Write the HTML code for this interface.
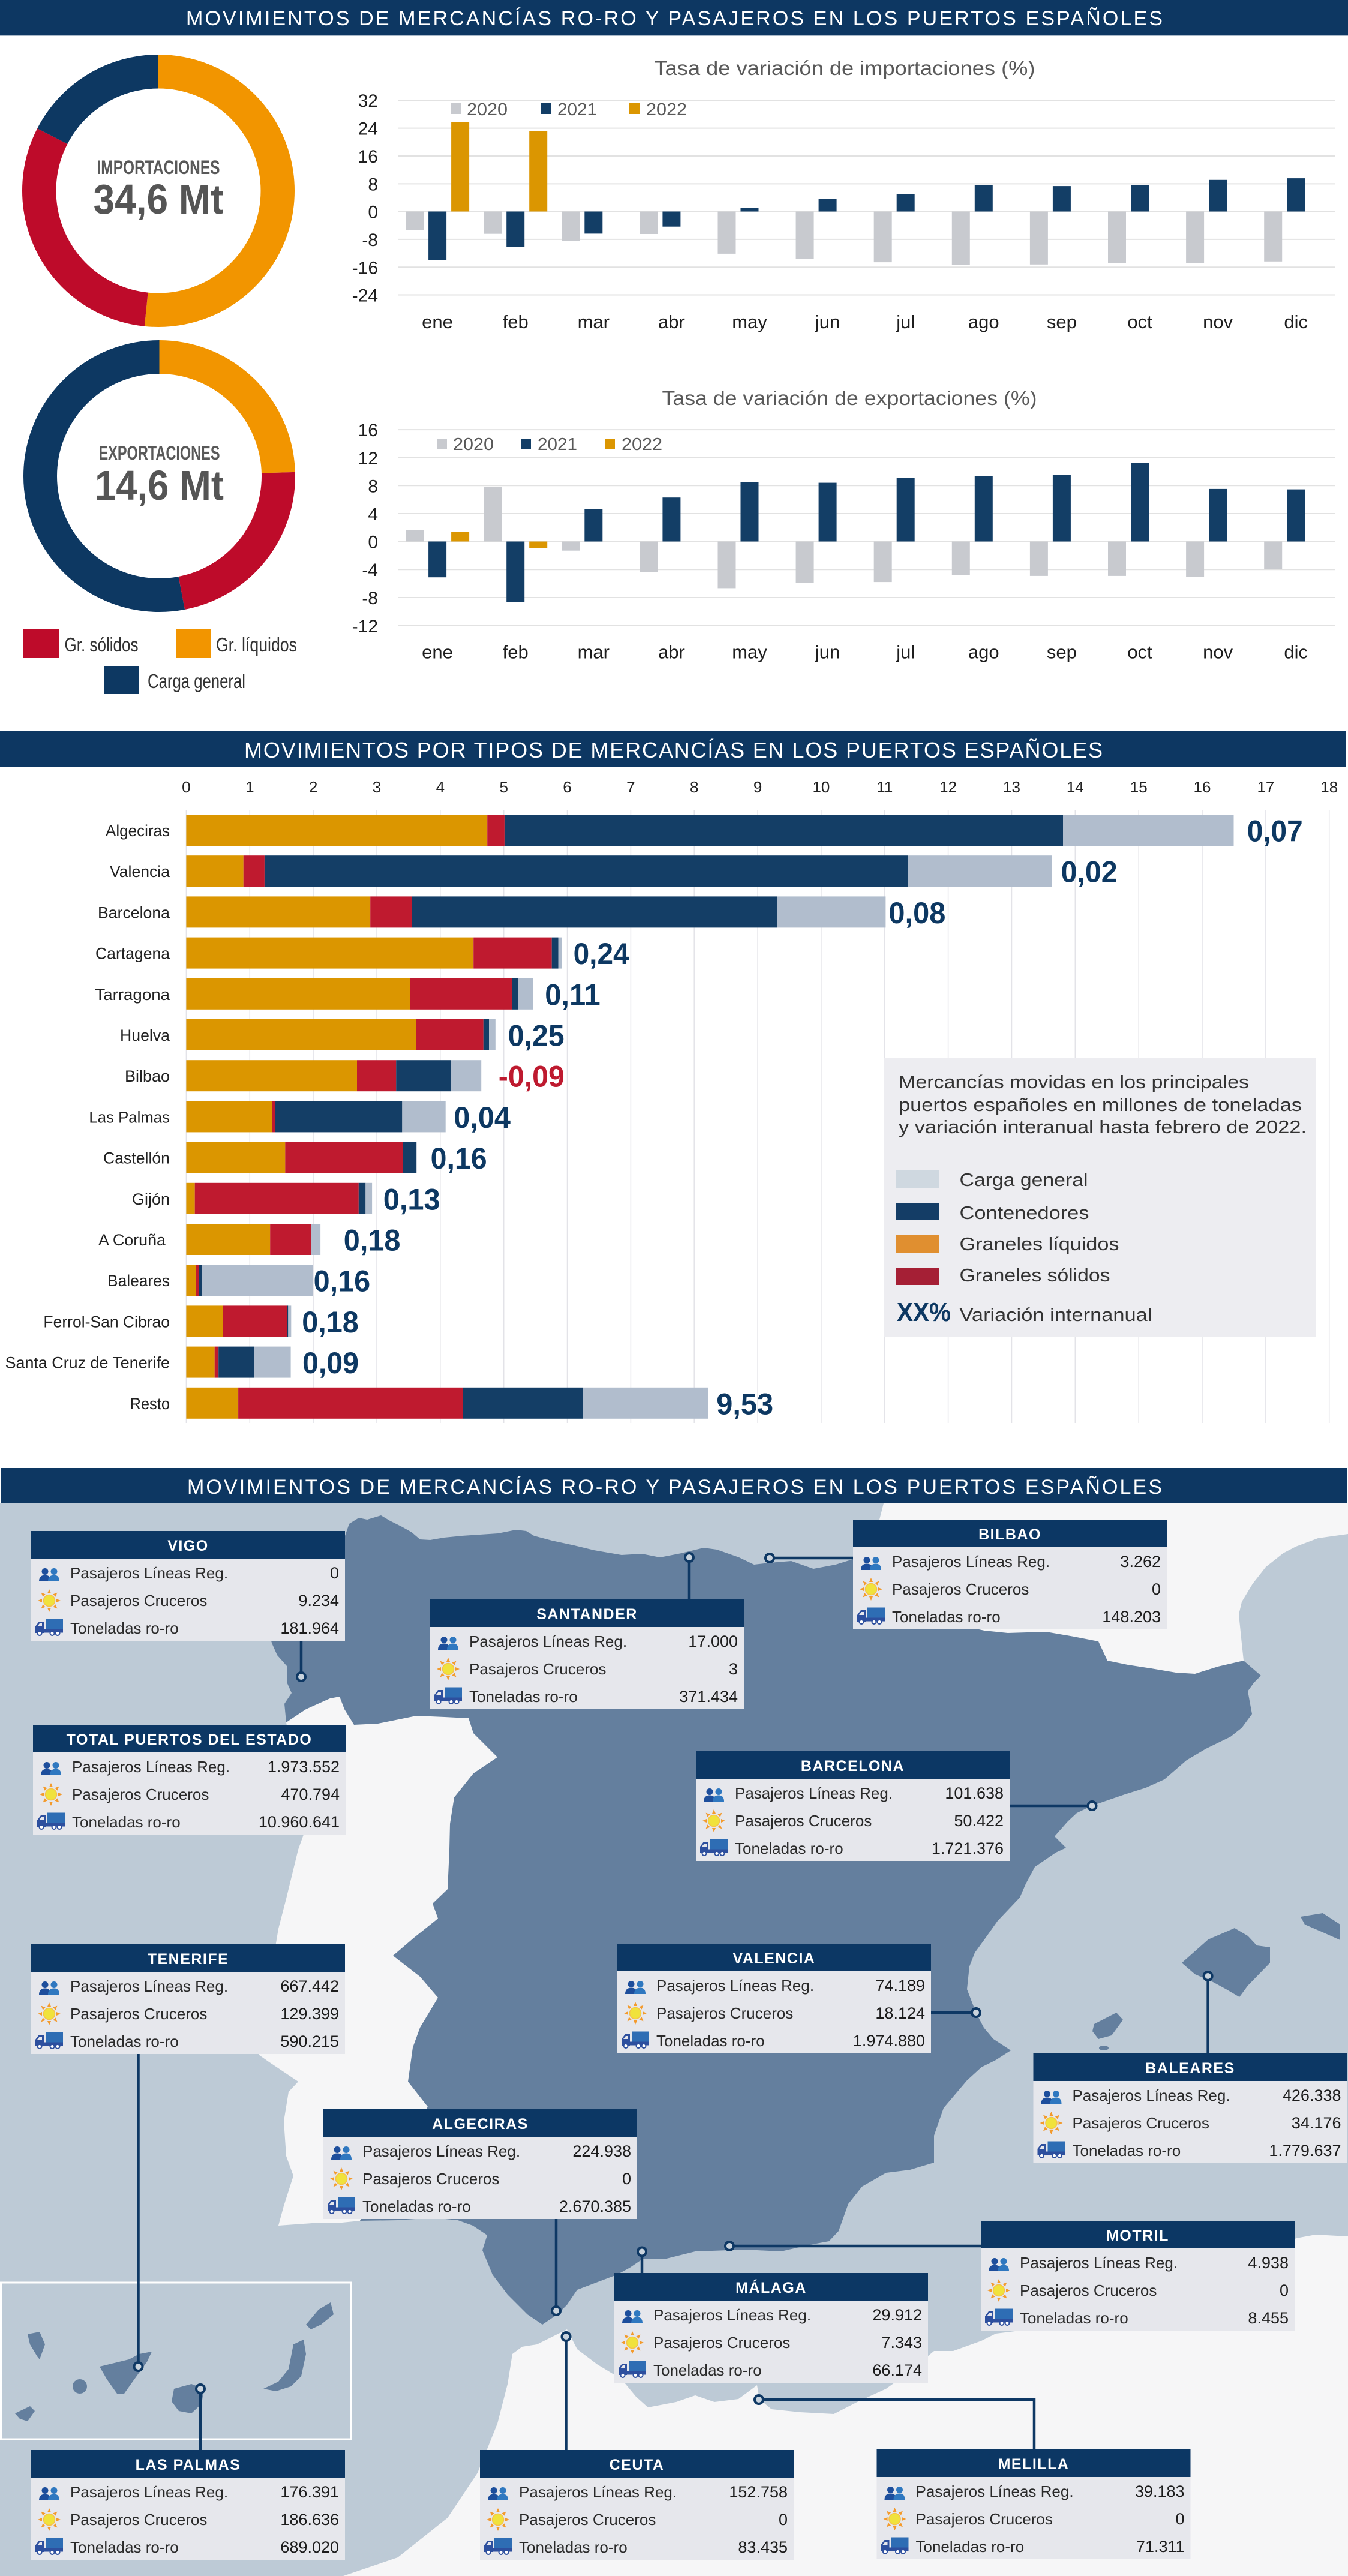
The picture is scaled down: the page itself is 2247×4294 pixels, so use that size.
<!DOCTYPE html>
<html><head><meta charset="utf-8"><style>
html,body{margin:0;padding:0;background:#fff;}
svg{display:block;}
</style></head><body>
<svg xmlns="http://www.w3.org/2000/svg" xmlns:xlink="http://www.w3.org/1999/xlink" width="2247" height="4294" viewBox="0 0 2247 4294" font-family="'Liberation Sans', sans-serif">
<defs>
<style>
text{font-family:"Liberation Sans",sans-serif}
.hd{font-size:34px;fill:#fff}
.tk{font-size:30px;fill:#1e1e1e;text-anchor:end}
.mo{font-size:31px;fill:#1e1e1e;text-anchor:middle}
.lg{font-size:29px;fill:#595959}
.ti{font-size:33px;fill:#595959;text-anchor:middle}
.bn{font-size:26.5px;fill:#222;text-anchor:end}
.ax{font-size:26px;fill:#222;text-anchor:middle}
.vl{font-size:50px;font-weight:bold;fill:#0d3862}
.lb{font-size:31px;fill:#333}
.bh{font-size:25px;font-weight:bold;fill:#fff;text-anchor:middle;letter-spacing:1.5px}
.bl{font-size:26px;fill:#2a2a2a}
.bv{font-size:27px;fill:#1c1c1c;text-anchor:end}
</style>
<g id="ppl">
<circle cx="-7" cy="-5.5" r="5.5" fill="#1d4e9c"/>
<path d="M-17,11 C-17,3 -12,0.5 -7,0.5 C-2,0.5 3,3 3,11 Z" fill="#1d4e9c"/>
<circle cx="8" cy="-5.5" r="5.5" fill="#2f78c0"/>
<path d="M-2,11 C-2,3 3,0.5 8,0.5 C13,0.5 17,3 17,11 Z" fill="#2f78c0"/>
</g>
<g id="sun">
<g fill="#f39a2c">
<polygon points="-3,-12 3,-12 0,-19"/>
<polygon points="-3,-12 3,-12 0,-19" transform="rotate(45)"/>
<polygon points="-3,-12 3,-12 0,-19" transform="rotate(90)"/>
<polygon points="-3,-12 3,-12 0,-19" transform="rotate(135)"/>
<polygon points="-3,-12 3,-12 0,-19" transform="rotate(180)"/>
<polygon points="-3,-12 3,-12 0,-19" transform="rotate(225)"/>
<polygon points="-3,-12 3,-12 0,-19" transform="rotate(270)"/>
<polygon points="-3,-12 3,-12 0,-19" transform="rotate(315)"/>
</g>
<circle r="9.5" fill="#f0e23c" stroke="#f6c24a" stroke-width="1.5"/>
</g>
<g id="trk">
<rect x="-6" y="-13.5" width="29" height="17" fill="#2e6db4"/>
<path d="M-23,10 L-23,-1 L-17,-9 L-9,-9 L-9,10 Z" fill="#2d4f9e"/>
<path d="M-20,-1 L-16,-6 L-12,-6 L-12,-1 Z" fill="#e6e7ec"/>
<rect x="-23" y="3.5" width="46" height="6" fill="#2d4f9e"/>
<circle cx="-16" cy="10.5" r="3.5" fill="#fff" stroke="#2d4f9e" stroke-width="2"/>
<circle cx="5" cy="10.5" r="3.5" fill="#fff" stroke="#2d4f9e" stroke-width="2"/>
<circle cx="14" cy="10.5" r="3.5" fill="#fff" stroke="#2d4f9e" stroke-width="2"/>
</g>
</defs>

<!-- ============ SECTION 1 ============ -->
<rect x="0" y="0" width="2247" height="58" fill="#0d3762"/>
<rect x="0" y="58" width="2247" height="2" fill="#a9b8c8"/>
<text x="310" y="42" class="hd" textLength="1628" lengthAdjust="spacing">MOVIMIENTOS DE MERCANCÍAS RO-RO Y PASAJEROS EN LOS PUERTOS ESPAÑOLES</text>

<!-- Import donut -->
<g transform="translate(264,318) rotate(-90)" fill="none" stroke-width="56.5">
<circle r="198.75" stroke="#f29500" stroke-dasharray="644.5 2000" stroke-dashoffset="0"/>
<circle r="198.75" stroke="#be0b2a" stroke-dasharray="386.1 2000" stroke-dashoffset="-644.5"/>
<circle r="198.75" stroke="#0d3862" stroke-dasharray="218.5 2000" stroke-dashoffset="-1030.6"/>
</g>
<text x="264" y="290" text-anchor="middle" font-size="32" font-weight="bold" fill="#595959" textLength="205" lengthAdjust="spacingAndGlyphs">IMPORTACIONES</text>
<text x="264" y="356" text-anchor="middle" font-size="70" font-weight="bold" fill="#555" textLength="217" lengthAdjust="spacingAndGlyphs">34,6 Mt</text>

<!-- Export donut -->
<g transform="translate(265.5,793.5) rotate(-90)" fill="none" stroke-width="56">
<circle r="198.5" stroke="#f29500" stroke-dasharray="305.8 2000" stroke-dashoffset="0"/>
<circle r="198.5" stroke="#be0b2a" stroke-dasharray="280.1 2000" stroke-dashoffset="-305.8"/>
<circle r="198.5" stroke="#0d3862" stroke-dasharray="661.5 2000" stroke-dashoffset="-585.9"/>
</g>
<text x="265.5" y="766" text-anchor="middle" font-size="32" font-weight="bold" fill="#595959" textLength="202" lengthAdjust="spacingAndGlyphs">EXPORTACIONES</text>
<text x="265.5" y="833" text-anchor="middle" font-size="70" font-weight="bold" fill="#555" textLength="215" lengthAdjust="spacingAndGlyphs">14,6 Mt</text>

<!-- donut legend -->
<rect x="39" y="1049" width="59" height="48" fill="#be0b2a"/>
<text x="107.5" y="1086" font-size="33" fill="#333" textLength="123" lengthAdjust="spacingAndGlyphs">Gr. sólidos</text>
<rect x="294" y="1049" width="58" height="48" fill="#f29500"/>
<text x="360" y="1086" font-size="33" fill="#333" textLength="135" lengthAdjust="spacingAndGlyphs">Gr. líquidos</text>
<rect x="174" y="1110" width="58" height="47" fill="#0d3862"/>
<text x="246" y="1147" font-size="33" fill="#333" textLength="163" lengthAdjust="spacingAndGlyphs">Carga general</text>

<!-- Import chart -->
<text x="1408" y="125" class="ti" textLength="635" lengthAdjust="spacingAndGlyphs">Tasa de variación de importaciones (%)</text>
<g stroke="#e2e2e2" stroke-width="2">
<line x1="664" x2="2225" y1="167.1" y2="167.1"/>
<line x1="664" x2="2225" y1="213.6" y2="213.6"/>
<line x1="664" x2="2225" y1="260" y2="260"/>
<line x1="664" x2="2225" y1="306.4" y2="306.4"/>
<line x1="664" x2="2225" y1="352.5" y2="352.5"/>
<line x1="664" x2="2225" y1="398.9" y2="398.9"/>
<line x1="664" x2="2225" y1="445.3" y2="445.3"/>
<line x1="664" x2="2225" y1="491.5" y2="491.5"/>
</g>
<g class="tk">
<text x="630" y="178" class="tk">32</text>
<text x="630" y="224.6" class="tk">24</text>
<text x="630" y="271" class="tk">16</text>
<text x="630" y="317.4" class="tk">8</text>
<text x="630" y="363.5" class="tk">0</text>
<text x="630" y="409.9" class="tk">-8</text>
<text x="630" y="456.3" class="tk">-16</text>
<text x="630" y="502.5" class="tk">-24</text>
</g>
<g fill="#c8cacf">
<rect x="676" y="352.5" width="30" height="30.9"/>
<rect x="806.2" y="352.5" width="30" height="37.2"/>
<rect x="936.3" y="352.5" width="30" height="48.8"/>
<rect x="1066.4" y="352.5" width="30" height="37.5"/>
<rect x="1196.5" y="352.5" width="30" height="70.4"/>
<rect x="1326.6" y="352.5" width="30" height="78.6"/>
<rect x="1456.7" y="352.5" width="30" height="84.6"/>
<rect x="1586.8" y="352.5" width="30" height="89.3"/>
<rect x="1716.9" y="352.5" width="30" height="88.3"/>
<rect x="1847" y="352.5" width="30" height="86.3"/>
<rect x="1977.1" y="352.5" width="30" height="86.3"/>
<rect x="2107.2" y="352.5" width="30" height="83.3"/>
</g>
<g fill="#133e66">
<rect x="714.1" y="352.5" width="30" height="80.6"/>
<rect x="844.2" y="352.5" width="30" height="59.1"/>
<rect x="974.3" y="352.5" width="30" height="36.9"/>
<rect x="1104.4" y="352.5" width="30" height="25.2"/>
<rect x="1234.5" y="346.6" width="30" height="5.9"/>
<rect x="1364.6" y="331.6" width="30" height="20.9"/>
<rect x="1494.7" y="323" width="30" height="29.5"/>
<rect x="1624.8" y="308.8" width="30" height="43.7"/>
<rect x="1754.9" y="310.1" width="30" height="42.4"/>
<rect x="1885" y="308.1" width="30" height="44.4"/>
<rect x="2015.1" y="299.8" width="30" height="52.7"/>
<rect x="2145.2" y="297.1" width="30" height="55.4"/>
</g>
<g fill="#db9601">
<rect x="752.1" y="203.6" width="30" height="148.9"/>
<rect x="882.2" y="218.2" width="30" height="134.3"/>
</g>
<rect x="751" y="172" width="18" height="18" fill="#c8cacf"/>
<text x="778" y="192" class="lg" textLength="68" lengthAdjust="spacingAndGlyphs">2020</text>
<rect x="901" y="172" width="18" height="18" fill="#133e66"/>
<text x="929" y="192" class="lg" textLength="66" lengthAdjust="spacingAndGlyphs">2021</text>
<rect x="1049" y="172" width="18" height="18" fill="#db9601"/>
<text x="1077" y="192" class="lg" textLength="68" lengthAdjust="spacingAndGlyphs">2022</text>
<g>
<text x="729" y="547" class="mo">ene</text>
<text x="859.2" y="547" class="mo">feb</text>
<text x="989.3" y="547" class="mo">mar</text>
<text x="1119.4" y="547" class="mo">abr</text>
<text x="1249.5" y="547" class="mo">may</text>
<text x="1379.6" y="547" class="mo">jun</text>
<text x="1509.7" y="547" class="mo">jul</text>
<text x="1639.8" y="547" class="mo">ago</text>
<text x="1769.9" y="547" class="mo">sep</text>
<text x="1900" y="547" class="mo">oct</text>
<text x="2030.1" y="547" class="mo">nov</text>
<text x="2160.2" y="547" class="mo">dic</text>
</g>

<!-- Export chart -->
<text x="1416" y="675" class="ti" textLength="625" lengthAdjust="spacingAndGlyphs">Tasa de variación de exportaciones (%)</text>
<g stroke="#e2e2e2" stroke-width="2">
<line x1="664" x2="2225" y1="716.1" y2="716.1"/>
<line x1="664" x2="2225" y1="762.9" y2="762.9"/>
<line x1="664" x2="2225" y1="809.3" y2="809.3"/>
<line x1="664" x2="2225" y1="856" y2="856"/>
<line x1="664" x2="2225" y1="902.5" y2="902.5"/>
<line x1="664" x2="2225" y1="949.2" y2="949.2"/>
<line x1="664" x2="2225" y1="996" y2="996"/>
<line x1="664" x2="2225" y1="1042.8" y2="1042.8"/>
</g>
<text x="630" y="727.1" class="tk">16</text>
<text x="630" y="773.9" class="tk">12</text>
<text x="630" y="820.3" class="tk">8</text>
<text x="630" y="867" class="tk">4</text>
<text x="630" y="913.5" class="tk">0</text>
<text x="630" y="960.2" class="tk">-4</text>
<text x="630" y="1007" class="tk">-8</text>
<text x="630" y="1053.8" class="tk">-12</text>
<g fill="#c8cacf">
<rect x="676" y="883.6" width="30" height="18.9"/>
<rect x="806.2" y="811.9" width="30" height="90.6"/>
<rect x="936.3" y="902.5" width="30" height="15.2"/>
<rect x="1066.4" y="902.5" width="30" height="51.4"/>
<rect x="1196.5" y="902.5" width="30" height="77.9"/>
<rect x="1326.6" y="902.5" width="30" height="69.3"/>
<rect x="1456.7" y="902.5" width="30" height="67.6"/>
<rect x="1586.8" y="902.5" width="30" height="55.7"/>
<rect x="1716.9" y="902.5" width="30" height="57.4"/>
<rect x="1847" y="902.5" width="30" height="57.4"/>
<rect x="1977.1" y="902.5" width="30" height="58.7"/>
<rect x="2107.2" y="902.5" width="30" height="45.8"/>
</g>
<g fill="#133e66">
<rect x="714.1" y="902.5" width="30" height="59.7"/>
<rect x="844.2" y="902.5" width="30" height="100.5"/>
<rect x="974.3" y="848.8" width="30" height="53.7"/>
<rect x="1104.4" y="829.2" width="30" height="73.3"/>
<rect x="1234.5" y="803.3" width="30" height="99.2"/>
<rect x="1364.6" y="804.6" width="30" height="97.9"/>
<rect x="1494.7" y="796.4" width="30" height="106.1"/>
<rect x="1624.8" y="793.7" width="30" height="108.8"/>
<rect x="1754.9" y="792" width="30" height="110.5"/>
<rect x="1885" y="771.1" width="30" height="131.4"/>
<rect x="2015.1" y="814.9" width="30" height="87.6"/>
<rect x="2145.2" y="815.6" width="30" height="86.9"/>
</g>
<g fill="#db9601">
<rect x="752.1" y="886.6" width="30" height="15.9"/>
<rect x="882.2" y="902.5" width="30" height="11.3"/>
</g>
<rect x="728" y="731" width="17" height="18" fill="#c8cacf"/>
<text x="755" y="750" class="lg" textLength="68" lengthAdjust="spacingAndGlyphs">2020</text>
<rect x="868" y="731" width="17" height="18" fill="#133e66"/>
<text x="896" y="750" class="lg" textLength="66" lengthAdjust="spacingAndGlyphs">2021</text>
<rect x="1008" y="731" width="17" height="18" fill="#db9601"/>
<text x="1036" y="750" class="lg" textLength="68" lengthAdjust="spacingAndGlyphs">2022</text>
<text x="729" y="1097.5" class="mo">ene</text>
<text x="859.2" y="1097.5" class="mo">feb</text>
<text x="989.3" y="1097.5" class="mo">mar</text>
<text x="1119.4" y="1097.5" class="mo">abr</text>
<text x="1249.5" y="1097.5" class="mo">may</text>
<text x="1379.6" y="1097.5" class="mo">jun</text>
<text x="1509.7" y="1097.5" class="mo">jul</text>
<text x="1639.8" y="1097.5" class="mo">ago</text>
<text x="1769.9" y="1097.5" class="mo">sep</text>
<text x="1900" y="1097.5" class="mo">oct</text>
<text x="2030.1" y="1097.5" class="mo">nov</text>
<text x="2160.2" y="1097.5" class="mo">dic</text>

<!-- ============ SECTION 2 ============ -->
<rect x="0" y="1219" width="2243" height="59" fill="#0d3762"/>
<text x="407" y="1263" font-size="36" fill="#fff" textLength="1431" lengthAdjust="spacing">MOVIMIENTOS POR TIPOS DE MERCANCÍAS EN LOS PUERTOS ESPAÑOLES</text>

<g stroke="#e3e3e8" stroke-width="1.5">
<line x1="310.4" x2="310.4" y1="1351" y2="2372"/>
<line x1="416.3" x2="416.3" y1="1351" y2="2372"/>
<line x1="522.1" x2="522.1" y1="1351" y2="2372"/>
<line x1="628" x2="628" y1="1351" y2="2372"/>
<line x1="733.8" x2="733.8" y1="1351" y2="2372"/>
<line x1="839.7" x2="839.7" y1="1351" y2="2372"/>
<line x1="945.5" x2="945.5" y1="1351" y2="2372"/>
<line x1="1051.4" x2="1051.4" y1="1351" y2="2372"/>
<line x1="1157.2" x2="1157.2" y1="1351" y2="2372"/>
<line x1="1263.1" x2="1263.1" y1="1351" y2="2372"/>
<line x1="1368.9" x2="1368.9" y1="1351" y2="2372"/>
<line x1="1474.8" x2="1474.8" y1="1351" y2="2372"/>
<line x1="1580.6" x2="1580.6" y1="1351" y2="2372"/>
<line x1="1686.5" x2="1686.5" y1="1351" y2="2372"/>
<line x1="1792.3" x2="1792.3" y1="1351" y2="2372"/>
<line x1="1898.2" x2="1898.2" y1="1351" y2="2372"/>
<line x1="2004" x2="2004" y1="1351" y2="2372"/>
<line x1="2109.9" x2="2109.9" y1="1351" y2="2372"/>
<line x1="2215.7" x2="2215.7" y1="1351" y2="2372"/>
</g>
<text x="310.4" y="1321" class="ax">0</text>
<text x="416.3" y="1321" class="ax">1</text>
<text x="522.1" y="1321" class="ax">2</text>
<text x="628" y="1321" class="ax">3</text>
<text x="733.8" y="1321" class="ax">4</text>
<text x="839.7" y="1321" class="ax">5</text>
<text x="945.5" y="1321" class="ax">6</text>
<text x="1051.4" y="1321" class="ax">7</text>
<text x="1157.2" y="1321" class="ax">8</text>
<text x="1263.1" y="1321" class="ax">9</text>
<text x="1368.9" y="1321" class="ax">10</text>
<text x="1474.8" y="1321" class="ax">11</text>
<text x="1580.6" y="1321" class="ax">12</text>
<text x="1686.5" y="1321" class="ax">13</text>
<text x="1792.3" y="1321" class="ax">14</text>
<text x="1898.2" y="1321" class="ax">15</text>
<text x="2004" y="1321" class="ax">16</text>
<text x="2109.9" y="1321" class="ax">17</text>
<text x="2215.7" y="1321" class="ax">18</text>

<!-- legend box -->
<rect x="1473.5" y="1764" width="720.5" height="464.5" fill="#ededf1"/>
<text x="1498" y="1814" class="lb" textLength="584" lengthAdjust="spacingAndGlyphs">Mercancías movidas en los principales</text>
<text x="1498" y="1852" class="lb" textLength="672" lengthAdjust="spacingAndGlyphs">puertos españoles en millones de toneladas</text>
<text x="1498" y="1889" class="lb" textLength="680" lengthAdjust="spacingAndGlyphs">y variación interanual hasta febrero de 2022.</text>
<rect x="1493" y="1951" width="72" height="29.5" fill="#cfd8e0"/>
<rect x="1493" y="2006" width="72" height="28" fill="#143d66"/>
<rect x="1493" y="2059" width="72" height="29" fill="#e08f30"/>
<rect x="1493" y="2114" width="72" height="28" fill="#a51f35"/>
<text x="1599.5" y="1977" class="lb" textLength="214" lengthAdjust="spacingAndGlyphs">Carga general</text>
<text x="1599.5" y="2032" class="lb" textLength="216" lengthAdjust="spacingAndGlyphs">Contenedores</text>
<text x="1599.5" y="2084" class="lb" textLength="266" lengthAdjust="spacingAndGlyphs">Graneles líquidos</text>
<text x="1599.5" y="2136" class="lb" textLength="251" lengthAdjust="spacingAndGlyphs">Graneles sólidos</text>
<text x="1495" y="2202" font-size="44" font-weight="bold" fill="#0d3862" textLength="90" lengthAdjust="spacingAndGlyphs">XX%</text>
<text x="1599.5" y="2202" class="lb" textLength="321" lengthAdjust="spacingAndGlyphs">Variación internanual</text>

<!-- bars -->
<g>
<rect x="310.4" y="1358" width="501.8" height="52" fill="#db9600"/><rect x="812.2" y="1358" width="28.7" height="52" fill="#bf1a2f"/><rect x="840.9" y="1358" width="931.1" height="52" fill="#143e66"/><rect x="1772" y="1358" width="284.5" height="52" fill="#b1bdcd"/>
<rect x="310.4" y="1426.2" width="95.3" height="52" fill="#db9600"/><rect x="405.7" y="1426.2" width="35.2" height="52" fill="#bf1a2f"/><rect x="440.9" y="1426.2" width="1073.1" height="52" fill="#143e66"/><rect x="1514" y="1426.2" width="239.5" height="52" fill="#b1bdcd"/>
<rect x="310.4" y="1494.4" width="306.8" height="52" fill="#db9600"/><rect x="617.2" y="1494.4" width="69.5" height="52" fill="#bf1a2f"/><rect x="686.7" y="1494.4" width="609.3" height="52" fill="#143e66"/><rect x="1296" y="1494.4" width="180.4" height="52" fill="#b1bdcd"/>
<rect x="310.4" y="1562.6" width="478.8" height="52" fill="#db9600"/><rect x="789.2" y="1562.6" width="130.5" height="52" fill="#bf1a2f"/><rect x="919.7" y="1562.6" width="10.8" height="52" fill="#143e66"/><rect x="930.5" y="1562.6" width="5.7" height="52" fill="#b1bdcd"/>
<rect x="310.4" y="1630.8" width="372.8" height="52" fill="#db9600"/><rect x="683.2" y="1630.8" width="170.6" height="52" fill="#bf1a2f"/><rect x="853.8" y="1630.8" width="9.3" height="52" fill="#143e66"/><rect x="863.1" y="1630.8" width="25.8" height="52" fill="#b1bdcd"/>
<rect x="310.4" y="1699" width="383.5" height="52" fill="#db9600"/><rect x="693.9" y="1699" width="111.8" height="52" fill="#bf1a2f"/><rect x="805.7" y="1699" width="9.4" height="52" fill="#143e66"/><rect x="815.1" y="1699" width="10.7" height="52" fill="#b1bdcd"/>
<rect x="310.4" y="1767.2" width="284.6" height="52" fill="#db9600"/><rect x="595" y="1767.2" width="65.2" height="52" fill="#bf1a2f"/><rect x="660.2" y="1767.2" width="91.8" height="52" fill="#143e66"/><rect x="752" y="1767.2" width="50.2" height="52" fill="#b1bdcd"/>
<rect x="310.4" y="1835.4" width="143.4" height="52" fill="#db9600"/><rect x="453.8" y="1835.4" width="4.3" height="52" fill="#bf1a2f"/><rect x="458.1" y="1835.4" width="212.2" height="52" fill="#143e66"/><rect x="670.3" y="1835.4" width="72.4" height="52" fill="#b1bdcd"/>
<rect x="310.4" y="1903.6" width="164.9" height="52" fill="#db9600"/><rect x="475.3" y="1903.6" width="196.4" height="52" fill="#bf1a2f"/><rect x="671.7" y="1903.6" width="21.5" height="52" fill="#143e66"/><rect x="693.2" y="1903.6" width="1.4" height="52" fill="#b1bdcd"/>
<rect x="310.4" y="1971.8" width="14.3" height="52" fill="#db9600"/><rect x="324.7" y="1971.8" width="273.1" height="52" fill="#bf1a2f"/><rect x="597.8" y="1971.8" width="11.5" height="52" fill="#143e66"/><rect x="609.3" y="1971.8" width="10.8" height="52" fill="#b1bdcd"/>
<rect x="310.4" y="2040" width="139.8" height="52" fill="#db9600"/><rect x="450.2" y="2040" width="68.8" height="52" fill="#bf1a2f"/><rect x="519" y="2040" width="15.1" height="52" fill="#b1bdcd"/>
<rect x="310.4" y="2108.2" width="15.8" height="52" fill="#db9600"/><rect x="326.2" y="2108.2" width="5" height="52" fill="#bf1a2f"/><rect x="331.2" y="2108.2" width="5.7" height="52" fill="#143e66"/><rect x="336.9" y="2108.2" width="184.2" height="52" fill="#b1bdcd"/>
<rect x="310.4" y="2176.4" width="61.6" height="52" fill="#db9600"/><rect x="372" y="2176.4" width="106.1" height="52" fill="#bf1a2f"/><rect x="478.1" y="2176.4" width="2.2" height="52" fill="#143e66"/><rect x="480.3" y="2176.4" width="5" height="52" fill="#b1bdcd"/>
<rect x="310.4" y="2244.6" width="47.3" height="52" fill="#db9600"/><rect x="357.7" y="2244.6" width="6.5" height="52" fill="#bf1a2f"/><rect x="364.2" y="2244.6" width="59.5" height="52" fill="#143e66"/><rect x="423.7" y="2244.6" width="60.9" height="52" fill="#b1bdcd"/>
<rect x="310.4" y="2312.8" width="86.7" height="52" fill="#db9600"/><rect x="397.1" y="2312.8" width="374.2" height="52" fill="#bf1a2f"/><rect x="771.3" y="2312.8" width="200.7" height="52" fill="#143e66"/><rect x="972" y="2312.8" width="208" height="52" fill="#b1bdcd"/>
</g>
<text x="283" y="1394" class="bn" textLength="107" lengthAdjust="spacingAndGlyphs">Algeciras</text>
<text x="283" y="1462.2" class="bn" textLength="100" lengthAdjust="spacingAndGlyphs">Valencia</text>
<text x="283" y="1530.4" class="bn" textLength="120" lengthAdjust="spacingAndGlyphs">Barcelona</text>
<text x="283" y="1598.6" class="bn" textLength="124" lengthAdjust="spacingAndGlyphs">Cartagena</text>
<text x="283" y="1666.8" class="bn" textLength="124.6" lengthAdjust="spacingAndGlyphs">Tarragona</text>
<text x="283" y="1735" class="bn" textLength="83" lengthAdjust="spacingAndGlyphs">Huelva</text>
<text x="283" y="1803.2" class="bn" textLength="75" lengthAdjust="spacingAndGlyphs">Bilbao</text>
<text x="283" y="1871.4" class="bn" textLength="134.6" lengthAdjust="spacingAndGlyphs">Las Palmas</text>
<text x="283" y="1939.6" class="bn" textLength="111" lengthAdjust="spacingAndGlyphs">Castellón</text>
<text x="283" y="2007.8" class="bn" textLength="63" lengthAdjust="spacingAndGlyphs">Gijón</text>
<text x="276" y="2076" class="bn" textLength="112" lengthAdjust="spacingAndGlyphs">A Coruña</text>
<text x="283" y="2144.2" class="bn" textLength="104" lengthAdjust="spacingAndGlyphs">Baleares</text>
<text x="283" y="2212.4" class="bn" textLength="210.6" lengthAdjust="spacingAndGlyphs">Ferrol-San Cibrao</text>
<text x="283" y="2280.6" class="bn" textLength="274.4" lengthAdjust="spacingAndGlyphs">Santa Cruz de Tenerife</text>
<text x="283" y="2348.8" class="bn" textLength="66.5" lengthAdjust="spacingAndGlyphs">Resto</text>

<text x="2078.7" y="1402.5" class="vl" textLength="93" lengthAdjust="spacingAndGlyphs">0,07</text>
<text x="1768.6" y="1470.7" class="vl" textLength="94" lengthAdjust="spacingAndGlyphs">0,02</text>
<text x="1481.4" y="1538.9" class="vl" textLength="95" lengthAdjust="spacingAndGlyphs">0,08</text>
<text x="955.6" y="1607.1" class="vl" textLength="93" lengthAdjust="spacingAndGlyphs">0,24</text>
<text x="908.2" y="1675.3" class="vl" textLength="92.5" lengthAdjust="spacingAndGlyphs">0,11</text>
<text x="846.6" y="1743.5" class="vl" textLength="94" lengthAdjust="spacingAndGlyphs">0,25</text>
<text x="830.8" y="1811.7" class="vl" fill="#be1a2f" style="fill:#be1a2f" textLength="110" lengthAdjust="spacingAndGlyphs">-0,09</text>
<text x="756.3" y="1879.9" class="vl" textLength="94.6" lengthAdjust="spacingAndGlyphs">0,04</text>
<text x="717.6" y="1948.1" class="vl" textLength="94" lengthAdjust="spacingAndGlyphs">0,16</text>
<text x="638.7" y="2016.3" class="vl" textLength="95" lengthAdjust="spacingAndGlyphs">0,13</text>
<text x="572.8" y="2084.5" class="vl" textLength="94.6" lengthAdjust="spacingAndGlyphs">0,18</text>
<text x="522.6" y="2152.7" class="vl" textLength="94.6" lengthAdjust="spacingAndGlyphs">0,16</text>
<text x="503.2" y="2220.9" class="vl" textLength="94.6" lengthAdjust="spacingAndGlyphs">0,18</text>
<text x="504" y="2289.1" class="vl" textLength="94" lengthAdjust="spacingAndGlyphs">0,09</text>
<text x="1194.2" y="2357.3" class="vl" textLength="95" lengthAdjust="spacingAndGlyphs">9,53</text>

<!-- ============ SECTION 3 : MAP ============ -->
<rect x="0" y="2506" width="2247" height="1788" fill="#bdcad6"/>
<polygon fill="#f6f6f7" points="1473,2506 2247,2506 2247,2557 2197,2564 2160,2578 2139,2589 2110,2612 2088,2640 2070,2670 2065,2691 2070,2740 2073,2768 2102,2793 2060,2805 1641,2760 1500,2700 1440,2600 1466,2533"/>
<polygon fill="#647f9e" points="575,2560 582,2540 598,2530 612,2533 635,2526 650,2535 670,2545 686,2554 700,2566 717,2567 740,2563 770,2560 800,2558 830,2556 860,2550 877,2552 890,2560 920,2568 957,2576 990,2584 1036,2592 1070,2590 1100,2596 1136,2589 1173,2580 1195,2583 1232,2596 1257,2608 1283,2605 1319,2602 1356,2615 1393,2608 1422,2599 1440,2600 1480,2650 1560,2700 1641,2718 1680,2722 1744,2720 1790,2728 1831,2736 1846,2768 1880,2775 1919,2781 1960,2788 1992,2790 2030,2778 2073,2768 2102,2793 2090,2805 2080,2819 2087,2857 2070,2880 2051,2895 2010,2915 1978,2934 1941,2966 1910,2980 1875,2991 1820,3010 1795,3022 1780,3036 1758,3061 1777,3080 1760,3088 1744,3099 1725,3112 1710,3140 1700,3163 1663,3202 1641,3233 1625,3255 1616,3278 1612,3316 1627,3355 1640,3380 1656,3399 1685,3418 1660,3434 1636,3446 1612,3468 1573,3514 1557,3560 1557,3605 1517,3617 1477,3622 1437,3645 1414,3674 1398,3719 1382,3736 1350,3742 1302,3753 1262,3751 1215,3751 1159,3753 1111,3765 1072,3765 1050,3780 1028,3792 962,3817 945,3842 929,3858 904,3875 879,3858 846,3825 821,3792 804,3751 812,3726 788,3710 763,3701 721,3697 663,3701 600,3702 600,2880 477,2871 474,2840 486,2822 478,2804 478,2777 462,2759 454,2741 450,2730"/>
<polygon fill="#f6f6f7" points="477,2871 510,2849 550,2831 566,2828 574,2849 590,2875 630,2873 694,2860 741,2862 781,2864 789,2889 829,2929 789,2956 757,2996 750,3040 749,3083 746,3149 721,3173 730,3198 690,3230 655,3260 700,3295 730,3330 700,3380 688,3413 680,3470 713,3512 680,3560 640,3630 610,3680 600,3702 560,3706 520,3706 464,3710 473,3677 489,3627 477,3594 473,3536 481,3487 497,3470 448,3437 431,3425 440,3380 450,3300 460,3239 464,3215 477,3165 497,3083 506,3058 498,3000 490,2940 482,2900"/>
<polygon fill="#f6f6f7" points="854,3924 870,3912 895,3908 929,3891 945,3883 962,3916 995,3941 1036,3966 1060,3995 1080,4013 1127,4004 1159,3993 1191,4004 1231,3999 1262,3976 1266,3999 1286,4016 1334,4021 1390,4024 1429,4004 1477,3982 1509,3959 1557,3919 1589,3919 1636,3902 1660,3890 1700,3885 1800,3870 2000,3800 2161,3731 2193,3725 2247,3728 2247,4294 572,4294 663,4263 746,4197 796,4122 829,4040 846,3974"/>
<g fill="#647f9e">
<polygon points="1970,3272 2014,3233 2058,3214 2080,3227 2095,3243 2117,3246 2117,3272 2080,3310 2066,3329 2044,3316 2022,3304 1992,3291"/>
<polygon points="2168,3195 2205,3189 2234,3208 2234,3234 2205,3221 2175,3208"/>
<polygon points="1824,3374 1861,3355 1872,3367 1853,3393 1831,3399 1821,3386"/>
<ellipse cx="1840" cy="3414" rx="8" ry="4"/>
<polygon points="46,3891 66,3887 75,3908 66,3933 62,3928 50,3908"/>
<polygon points="25,4023 50,4011 58,4019 46,4036 33,4032"/>
<circle cx="133" cy="3978" r="12"/>
<polygon points="166,3945 215,3933 232,3924 253,3920 245,3937 224,3966 207,3990 195,3990 178,3966"/>
<polygon points="290,3982 319,3974 340,3982 336,4007 319,4023 298,4019 286,4003"/>
<polygon points="439,3982 464,3970 481,3949 489,3908 506,3900 510,3924 502,3961 485,3978 460,3986"/>
<polygon points="510,3875 531,3850 551,3838 556,3858 535,3875 518,3883"/>
</g>
<rect x="1.5" y="3805" width="584" height="261" fill="none" stroke="#fff" stroke-width="3"/>

<!-- connectors -->
<g stroke="#0e3864" stroke-width="4.5" fill="none">
<line x1="502" y1="2735" x2="502" y2="2788"/>
<line x1="1149" y1="2603" x2="1149" y2="2666"/>
<line x1="1290" y1="2597" x2="1422" y2="2597"/>
<line x1="1684" y1="3010" x2="1813" y2="3010"/>
<line x1="1552" y1="3355" x2="1620" y2="3355"/>
<line x1="2013.6" y1="3301" x2="2013.6" y2="3423"/>
<line x1="230.5" y1="3421" x2="230.5" y2="3938"/>
<line x1="334" y1="3989" x2="334" y2="4084"/>
<line x1="927" y1="3698" x2="927" y2="3845"/>
<line x1="943.5" y1="3902" x2="943.5" y2="4084"/>
<line x1="1070" y1="3760" x2="1070" y2="3790"/>
<line x1="1223" y1="3744" x2="1635" y2="3744"/>
<polyline points="1272,4000 1724,4000 1724,4084"/>
</g>
<g stroke="#0e3864" stroke-width="4" fill="#c9d3dd">
<circle cx="502" cy="2795" r="7"/>
<circle cx="1149" cy="2596" r="7"/>
<circle cx="1283" cy="2597" r="7"/>
<circle cx="1820.5" cy="3010" r="7"/>
<circle cx="1627" cy="3355" r="7"/>
<circle cx="2013.6" cy="3294" r="7"/>
<circle cx="230.5" cy="3945" r="7"/>
<circle cx="334" cy="3982" r="7"/>
<circle cx="927" cy="3852" r="7"/>
<circle cx="943.5" cy="3895" r="7"/>
<circle cx="1070" cy="3753.5" r="7"/>
<circle cx="1216" cy="3744" r="7"/>
<circle cx="1265" cy="4000" r="7"/>
</g>

<!-- boxes -->
<g transform="translate(52,2552)">
<rect width="523" height="46" fill="#0c3764"/><rect y="46" width="523" height="137" fill="#e6e7ec"/>
<text x="261.5" y="33" class="bh">VIGO</text>
<use xlink:href="#ppl" x="30" y="73"/><use xlink:href="#sun" x="30" y="116"/><use xlink:href="#trk" x="30" y="160"/>
<text x="65" y="79" class="bl">Pasajeros Líneas Reg.</text><text x="65" y="125" class="bl">Pasajeros Cruceros</text><text x="65" y="171" class="bl">Toneladas ro-ro</text>
<text x="513" y="79" class="bv">0</text><text x="513" y="125" class="bv">9.234</text><text x="513" y="171" class="bv">181.964</text>
</g>
<g transform="translate(717,2666)">
<rect width="523" height="46" fill="#0c3764"/><rect y="46" width="523" height="137" fill="#e6e7ec"/>
<text x="261.5" y="33" class="bh">SANTANDER</text>
<use xlink:href="#ppl" x="30" y="73"/><use xlink:href="#sun" x="30" y="116"/><use xlink:href="#trk" x="30" y="160"/>
<text x="65" y="79" class="bl">Pasajeros Líneas Reg.</text><text x="65" y="125" class="bl">Pasajeros Cruceros</text><text x="65" y="171" class="bl">Toneladas ro-ro</text>
<text x="513" y="79" class="bv">17.000</text><text x="513" y="125" class="bv">3</text><text x="513" y="171" class="bv">371.434</text>
</g>
<g transform="translate(1422,2533)">
<rect width="523" height="46" fill="#0c3764"/><rect y="46" width="523" height="137" fill="#e6e7ec"/>
<text x="261.5" y="33" class="bh">BILBAO</text>
<use xlink:href="#ppl" x="30" y="73"/><use xlink:href="#sun" x="30" y="116"/><use xlink:href="#trk" x="30" y="160"/>
<text x="65" y="79" class="bl">Pasajeros Líneas Reg.</text><text x="65" y="125" class="bl">Pasajeros Cruceros</text><text x="65" y="171" class="bl">Toneladas ro-ro</text>
<text x="513" y="79" class="bv">3.262</text><text x="513" y="125" class="bv">0</text><text x="513" y="171" class="bv">148.203</text>
</g>
<g transform="translate(55,2875)">
<rect width="521" height="46" fill="#0c3764"/><rect y="46" width="521" height="137" fill="#e6e7ec"/>
<text x="260.5" y="33" class="bh">TOTAL PUERTOS DEL ESTADO</text>
<use xlink:href="#ppl" x="30" y="73"/><use xlink:href="#sun" x="30" y="116"/><use xlink:href="#trk" x="30" y="160"/>
<text x="65" y="79" class="bl">Pasajeros Líneas Reg.</text><text x="65" y="125" class="bl">Pasajeros Cruceros</text><text x="65" y="171" class="bl">Toneladas ro-ro</text>
<text x="511" y="79" class="bv">1.973.552</text><text x="511" y="125" class="bv">470.794</text><text x="511" y="171" class="bv">10.960.641</text>
</g>
<g transform="translate(1160,2919)">
<rect width="523" height="46" fill="#0c3764"/><rect y="46" width="523" height="137" fill="#e6e7ec"/>
<text x="261.5" y="33" class="bh">BARCELONA</text>
<use xlink:href="#ppl" x="30" y="73"/><use xlink:href="#sun" x="30" y="116"/><use xlink:href="#trk" x="30" y="160"/>
<text x="65" y="79" class="bl">Pasajeros Líneas Reg.</text><text x="65" y="125" class="bl">Pasajeros Cruceros</text><text x="65" y="171" class="bl">Toneladas ro-ro</text>
<text x="513" y="79" class="bv">101.638</text><text x="513" y="125" class="bv">50.422</text><text x="513" y="171" class="bv">1.721.376</text>
</g>
<g transform="translate(52,3241)">
<rect width="523" height="46" fill="#0c3764"/><rect y="46" width="523" height="137" fill="#e6e7ec"/>
<text x="261.5" y="33" class="bh">TENERIFE</text>
<use xlink:href="#ppl" x="30" y="73"/><use xlink:href="#sun" x="30" y="116"/><use xlink:href="#trk" x="30" y="160"/>
<text x="65" y="79" class="bl">Pasajeros Líneas Reg.</text><text x="65" y="125" class="bl">Pasajeros Cruceros</text><text x="65" y="171" class="bl">Toneladas ro-ro</text>
<text x="513" y="79" class="bv">667.442</text><text x="513" y="125" class="bv">129.399</text><text x="513" y="171" class="bv">590.215</text>
</g>
<g transform="translate(1029,3240)">
<rect width="523" height="46" fill="#0c3764"/><rect y="46" width="523" height="137" fill="#e6e7ec"/>
<text x="261.5" y="33" class="bh">VALENCIA</text>
<use xlink:href="#ppl" x="30" y="73"/><use xlink:href="#sun" x="30" y="116"/><use xlink:href="#trk" x="30" y="160"/>
<text x="65" y="79" class="bl">Pasajeros Líneas Reg.</text><text x="65" y="125" class="bl">Pasajeros Cruceros</text><text x="65" y="171" class="bl">Toneladas ro-ro</text>
<text x="513" y="79" class="bv">74.189</text><text x="513" y="125" class="bv">18.124</text><text x="513" y="171" class="bv">1.974.880</text>
</g>
<g transform="translate(1722.5,3423)">
<rect width="523" height="46" fill="#0c3764"/><rect y="46" width="523" height="137" fill="#e6e7ec"/>
<text x="261.5" y="33" class="bh">BALEARES</text>
<use xlink:href="#ppl" x="30" y="73"/><use xlink:href="#sun" x="30" y="116"/><use xlink:href="#trk" x="30" y="160"/>
<text x="65" y="79" class="bl">Pasajeros Líneas Reg.</text><text x="65" y="125" class="bl">Pasajeros Cruceros</text><text x="65" y="171" class="bl">Toneladas ro-ro</text>
<text x="513" y="79" class="bv">426.338</text><text x="513" y="125" class="bv">34.176</text><text x="513" y="171" class="bv">1.779.637</text>
</g>
<g transform="translate(539,3516)">
<rect width="523" height="46" fill="#0c3764"/><rect y="46" width="523" height="137" fill="#e6e7ec"/>
<text x="261.5" y="33" class="bh">ALGECIRAS</text>
<use xlink:href="#ppl" x="30" y="73"/><use xlink:href="#sun" x="30" y="116"/><use xlink:href="#trk" x="30" y="160"/>
<text x="65" y="79" class="bl">Pasajeros Líneas Reg.</text><text x="65" y="125" class="bl">Pasajeros Cruceros</text><text x="65" y="171" class="bl">Toneladas ro-ro</text>
<text x="513" y="79" class="bv">224.938</text><text x="513" y="125" class="bv">0</text><text x="513" y="171" class="bv">2.670.385</text>
</g>
<g transform="translate(1635,3702)">
<rect width="523" height="46" fill="#0c3764"/><rect y="46" width="523" height="137" fill="#e6e7ec"/>
<text x="261.5" y="33" class="bh">MOTRIL</text>
<use xlink:href="#ppl" x="30" y="73"/><use xlink:href="#sun" x="30" y="116"/><use xlink:href="#trk" x="30" y="160"/>
<text x="65" y="79" class="bl">Pasajeros Líneas Reg.</text><text x="65" y="125" class="bl">Pasajeros Cruceros</text><text x="65" y="171" class="bl">Toneladas ro-ro</text>
<text x="513" y="79" class="bv">4.938</text><text x="513" y="125" class="bv">0</text><text x="513" y="171" class="bv">8.455</text>
</g>
<g transform="translate(1024,3789)">
<rect width="523" height="46" fill="#0c3764"/><rect y="46" width="523" height="137" fill="#e6e7ec"/>
<text x="261.5" y="33" class="bh">MÁLAGA</text>
<use xlink:href="#ppl" x="30" y="73"/><use xlink:href="#sun" x="30" y="116"/><use xlink:href="#trk" x="30" y="160"/>
<text x="65" y="79" class="bl">Pasajeros Líneas Reg.</text><text x="65" y="125" class="bl">Pasajeros Cruceros</text><text x="65" y="171" class="bl">Toneladas ro-ro</text>
<text x="513" y="79" class="bv">29.912</text><text x="513" y="125" class="bv">7.343</text><text x="513" y="171" class="bv">66.174</text>
</g>
<g transform="translate(52,4084)">
<rect width="523" height="46" fill="#0c3764"/><rect y="46" width="523" height="137" fill="#e6e7ec"/>
<text x="261.5" y="33" class="bh">LAS PALMAS</text>
<use xlink:href="#ppl" x="30" y="73"/><use xlink:href="#sun" x="30" y="116"/><use xlink:href="#trk" x="30" y="160"/>
<text x="65" y="79" class="bl">Pasajeros Líneas Reg.</text><text x="65" y="125" class="bl">Pasajeros Cruceros</text><text x="65" y="171" class="bl">Toneladas ro-ro</text>
<text x="513" y="79" class="bv">176.391</text><text x="513" y="125" class="bv">186.636</text><text x="513" y="171" class="bv">689.020</text>
</g>
<g transform="translate(800,4084)">
<rect width="523" height="46" fill="#0c3764"/><rect y="46" width="523" height="137" fill="#e6e7ec"/>
<text x="261.5" y="33" class="bh">CEUTA</text>
<use xlink:href="#ppl" x="30" y="73"/><use xlink:href="#sun" x="30" y="116"/><use xlink:href="#trk" x="30" y="160"/>
<text x="65" y="79" class="bl">Pasajeros Líneas Reg.</text><text x="65" y="125" class="bl">Pasajeros Cruceros</text><text x="65" y="171" class="bl">Toneladas ro-ro</text>
<text x="513" y="79" class="bv">152.758</text><text x="513" y="125" class="bv">0</text><text x="513" y="171" class="bv">83.435</text>
</g>
<g transform="translate(1461.5,4083)">
<rect width="523" height="46" fill="#0c3764"/><rect y="46" width="523" height="137" fill="#e6e7ec"/>
<text x="261.5" y="33" class="bh">MELILLA</text>
<use xlink:href="#ppl" x="30" y="73"/><use xlink:href="#sun" x="30" y="116"/><use xlink:href="#trk" x="30" y="160"/>
<text x="65" y="79" class="bl">Pasajeros Líneas Reg.</text><text x="65" y="125" class="bl">Pasajeros Cruceros</text><text x="65" y="171" class="bl">Toneladas ro-ro</text>
<text x="513" y="79" class="bv">39.183</text><text x="513" y="125" class="bv">0</text><text x="513" y="171" class="bv">71.311</text>
</g>

<!-- header 3 -->
<rect x="2" y="2447" width="2243" height="59" fill="#0d3762"/>
<text x="312" y="2490" class="hd" textLength="1625" lengthAdjust="spacing">MOVIMIENTOS DE MERCANCÍAS RO-RO Y PASAJEROS EN LOS PUERTOS ESPAÑOLES</text>
</svg>
</body></html>
